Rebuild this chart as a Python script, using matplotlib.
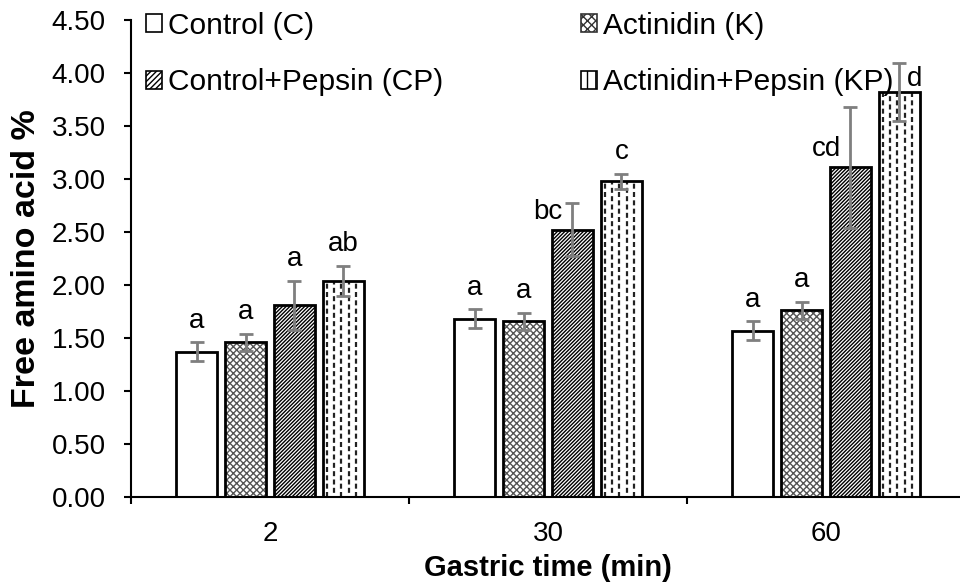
import numpy as np
import matplotlib
matplotlib.use("Agg")
import matplotlib.pyplot as plt
from matplotlib.patches import Patch

plt.rcParams["font.family"] = ["Liberation Sans", "DejaVu Sans"]
plt.rcParams["hatch.linewidth"] = 1.0
plt.rcParams["lines.scale_dashes"] = False

# ---- data -------------------------------------------------------------
times = ["2", "30", "60"]
series = ["Control (C)", "Actinidin (K)", "Control+Pepsin (CP)", "Actinidin+Pepsin (KP)"]
ctrl = [1.37, 1.68, 1.57]
acti = [1.46, 1.66, 1.76]
ctrl_pep = [1.81, 2.52, 3.11]
acti_pep = [2.04, 2.98, 3.82]
ctrl_err = [0.09, 0.09, 0.09]
acti_err = [0.08, 0.08, 0.08]
ctrl_pep_err = [0.23, 0.25, 0.57]
acti_pep_err = [0.14, 0.07, 0.27]
letters_c = ["a", "a", "a"]
letters_k = ["a", "a", "a"]
letters_cp = ["a", "bc", "cd"]
letters_kp = ["ab", "c", "d"]

values = [ctrl, acti, ctrl_pep, acti_pep]
errors = [ctrl_err, acti_err, ctrl_pep_err, acti_pep_err]
letters = [letters_c, letters_k, letters_cp, letters_kp]

FS = 20

# ---- figure -----------------------------------------------------------
fig = plt.figure(figsize=(9.6, 5.88), dpi=100)
ax = fig.add_axes([131 / 960, 91 / 588, 834 / 960, 477 / 588])

x = np.arange(len(times))
step = 0.176
width = 0.148
hatches = [None, "xxxxx", "/////////", None]
hatch_cols = ["black", "#555555", "black", "black"]

for i, (vals, errs, labs) in enumerate(zip(values, errors, letters)):
    pos = x + (i - 1.5) * step
    ax.bar(pos, vals, width, color="white", edgecolor=hatch_cols[i],
           hatch=hatches[i], linewidth=0, zorder=2)
    bars = ax.bar(pos, vals, width, fill=False, edgecolor="black",
                  linewidth=2, zorder=3)
    if i == 3:
        # dashed vertical stripes inside the KP bars
        for b in bars:
            bx, bw, bh = b.get_x(), b.get_width(), b.get_height()
            for k, f in enumerate([0.09, 0.27, 0.45, 0.63, 0.81]):
                ax.plot([bx + f * bw] * 2, [0, bh], color="#222222", lw=1.6,
                        linestyle=(3.0 * (k % 2), (3.6, 2.4)), zorder=2.5)
    ax.errorbar(pos, vals, yerr=errs, fmt="none", ecolor="#7f7f7f",
                elinewidth=2, capsize=5, capthick=2, zorder=4)
    for j in range(len(times)):
        if i == 3 and j == 2:
            # no room above: letter sits beside the error bar
            ax.text(pos[j] + width * 0.18, vals[j], labs[j], ha="left",
                    va="bottom", fontsize=FS)
        elif i == 2 and j > 0:
            ax.text(pos[j] - 0.035, vals[j] + 0.05, labs[j], ha="right",
                    va="bottom", fontsize=FS)
        else:
            ax.text(pos[j], vals[j] + errs[j] + 0.08, labs[j], ha="center",
                    va="bottom", fontsize=FS)

ax.set_xlim(-0.5, 2.5)
ax.set_ylim(0, 4.5)
ax.set_yticks(np.arange(0, 4.51, 0.5))
ax.set_yticklabels([f"{v:.2f}" for v in np.arange(0, 4.51, 0.5)])
ax.set_xticks(x)
ax.set_xticklabels(times)
ax.set_xticks([-0.5, 0.5, 1.5], minor=True)
ax.tick_params(axis="x", which="major", length=0, labelsize=FS, pad=17)
ax.tick_params(axis="x", which="minor", length=5, width=1.5, direction="out")
ax.tick_params(axis="y", labelsize=FS, length=5, width=1.5, direction="out", pad=13)
for s in ["top", "right"]:
    ax.spines[s].set_visible(False)
ax.spines["left"].set_linewidth(1.5)
ax.spines["bottom"].set_linewidth(1.5)

ax.set_ylabel("Free amino acid %", fontsize=24.5, fontweight="bold", labelpad=7)
ax.set_xlabel("Gastric time (min)", fontsize=21, fontweight="bold", labelpad=5)

h_c = Patch(facecolor="white", edgecolor="black", linewidth=1.2)
h_k = Patch(facecolor="white", edgecolor="#333333", hatch="xxxx", linewidth=1.2)
h_cp = Patch(facecolor="white", edgecolor="black", hatch="//////", linewidth=1.2)
h_kp = Patch(facecolor="white", edgecolor="black", hatch="||", linewidth=1.2)
# column-major order so rows read C, K / CP, KP
fig.legend([h_c, h_cp, h_k, h_kp],
           [series[0], series[2], series[1], series[3]],
           loc="upper left", bbox_to_anchor=(140 / 960, 0.99),
           ncol=2, frameon=False, fontsize=21.5, handlelength=0.55,
           handleheight=0.55, handletextpad=0.2, columnspacing=4.6,
           labelspacing=0.95, borderaxespad=0.0, borderpad=0.2)

fig.savefig("out.png", dpi=100)
